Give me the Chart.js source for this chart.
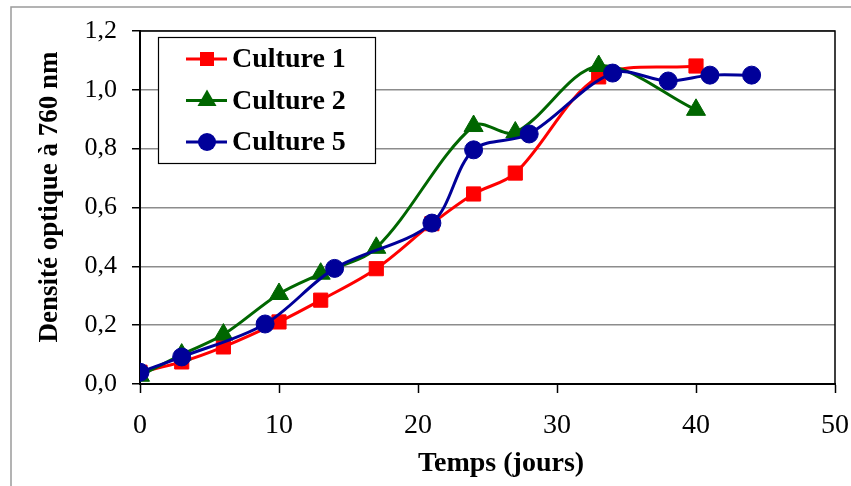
<!DOCTYPE html>
<html><head><meta charset="utf-8">
<script src="https://cdn.jsdelivr.net/npm/chart.js"></script>
<style>html,body{margin:0;padding:0;background:#fff;overflow:hidden}</style>
</head><body>
<canvas id="c" width="851" height="486"></canvas>
<script>
// ---- data ----
const seriesNames = ['Culture 1', 'Culture 2', 'Culture 5'];
const days1 = [0, 3, 6, 10, 13, 17, 21, 24, 27, 33, 40];
const od1   = [0.04, 0.075, 0.126, 0.211, 0.285, 0.392, 0.545, 0.646, 0.717, 1.044, 1.081];
const days2 = [0, 3, 6, 10, 13, 17, 24, 27, 33, 40];
const od2   = [0.028, 0.1, 0.168, 0.306, 0.375, 0.463, 0.877, 0.855, 1.081, 0.932];
const days5 = [0, 3, 9, 14, 21, 24, 28, 34, 38, 41, 44];
const od5   = [0.04, 0.092, 0.204, 0.393, 0.547, 0.796, 0.85, 1.057, 1.03, 1.05, 1.05];
const xTicks = [0, 10, 20, 30, 40, 50];
const yTicks = [0, 0.2, 0.4, 0.6, 0.8, 1.0, 1.2];
const yTickLabels = ['0,0', '0,2', '0,4', '0,6', '0,8', '1,0', '1,2'];
const xTitle = 'Temps (jours)';
const yTitle = 'Densité optique à 760 nm';

// ---- styles ----
const FONT = "'Liberation Serif', 'Times New Roman', serif";
const colors = ['#FF0000', '#006600', '#000099'];
const markers = ['rect', 'triangle', 'circle'];
const radii = [10, 11, 9];

function makeDataset(i, xs, ys) {
  return {
    label: seriesNames[i],
    data: xs.map((x, k) => ({ x: x, y: ys[k] })),
    borderColor: colors[i],
    backgroundColor: colors[i],
    pointStyle: markers[i],
    pointRadius: radii[i],
    pointHoverRadius: radii[i],
    pointBorderWidth: 1,
    pointBorderColor: colors[i],
    pointBackgroundColor: colors[i],
    borderWidth: 3,
    tension: 0.33,
    fill: false,
    order: 2 - i
  };
}

function drawMarker(ctx, style, x, y, color) {
  ctx.fillStyle = color;
  ctx.beginPath();
  if (style === 'rect') {
    ctx.rect(x - 7, y - 7, 14, 14);
  } else if (style === 'triangle') {
    ctx.moveTo(x, y - 11);
    ctx.lineTo(x + 9.5, y + 5.5);
    ctx.lineTo(x - 9.5, y + 5.5);
    ctx.closePath();
  } else {
    ctx.arc(x, y, 9, 0, Math.PI * 2);
  }
  ctx.fill();
}

const framePlugin = {
  id: 'frame',
  beforeDraw(chart) {
    const ctx = chart.ctx;
    ctx.save();
    ctx.fillStyle = '#fff';
    ctx.fillRect(0, 0, chart.width, chart.height);
    ctx.strokeStyle = '#9a9a9a';
    ctx.lineWidth = 1.5;
    ctx.strokeRect(11, 7, 1000, 1000);
    ctx.restore();
  },
  beforeDatasetsDraw(chart) {
    const a = chart.chartArea, ctx = chart.ctx;
    ctx.save();
    ctx.strokeStyle = '#000';
    ctx.lineWidth = 1.5;
    ctx.beginPath();
    ctx.moveTo(a.left, a.top);
    ctx.lineTo(a.right, a.top);
    ctx.lineTo(a.right, a.bottom);
    ctx.stroke();
    ctx.restore();
  },
  afterDraw(chart) {
    const ctx = chart.ctx;
    ctx.save();
    // axis titles
    ctx.fillStyle = '#000';
    ctx.textAlign = 'center';
    ctx.textBaseline = 'middle';
    ctx.font = "bold 28px " + FONT;
    ctx.fillText(xTitle, 501, 464);
    ctx.save();
    ctx.translate(50, 197);
    ctx.rotate(-Math.PI / 2);
    ctx.font = "bold 27px " + FONT;
    ctx.fillText(yTitle, 0, 0);
    ctx.restore();
    // legend box
    ctx.fillStyle = '#fff';
    ctx.fillRect(158, 37, 217, 126);
    ctx.strokeStyle = '#000';
    ctx.lineWidth = 1.2;
    ctx.strokeRect(158.5, 37.5, 217, 126);
    chart.data.datasets.forEach((d, i) => {
      const y = 59 + i * 41.5;
      ctx.strokeStyle = d.borderColor;
      ctx.lineWidth = 3;
      ctx.beginPath();
      ctx.moveTo(186, y);
      ctx.lineTo(227, y);
      ctx.stroke();
      drawMarker(ctx, d.pointStyle, 207, y, d.borderColor);
      ctx.fillStyle = '#000';
      ctx.font = "bold 28px " + FONT;
      ctx.textBaseline = 'middle';
      ctx.textAlign = 'left';
      ctx.fillText(d.label, 232, y + 1);
    });
    ctx.restore();
  }
};

new Chart(document.getElementById('c'), {
  type: 'line',
  data: {
    datasets: [
      makeDataset(0, days1, od1),
      makeDataset(1, days2, od2),
      makeDataset(2, days5, od5)
    ]
  },
  options: {
    responsive: false,
    animation: false,
    devicePixelRatio: 1,
    layout: { padding: { top: 31, right: 16, left: 0, bottom: 0 } },
    plugins: { legend: { display: false }, tooltip: { enabled: false } },
    scales: {
      x: {
        type: 'linear',
        min: 0, max: 50,
        afterBuildTicks: s => { s.ticks = xTicks.map(v => ({ value: v })); },
        afterFit: s => { s.height = 102; s.paddingLeft = 0; s.paddingRight = 0; },
        ticks: {
          color: '#000', padding: 16, maxRotation: 0, autoSkip: false,
          font: { family: FONT, size: 28 },
          callback: v => String(v)
        },
        grid: { drawOnChartArea: false, drawTicks: true, tickLength: 9, tickColor: '#000', tickWidth: 1.5 },
        border: { color: '#000', width: 2 },
        title: { display: false }
      },
      y: {
        min: 0, max: 1.2,
        afterBuildTicks: s => { s.ticks = yTicks.map(v => ({ value: v })); },
        afterFit: s => { s.width = 140; s.paddingTop = 0; s.paddingBottom = 0; },
        ticks: {
          color: '#000', padding: 15,
          font: { family: FONT, size: 26 },
          callback: (v, i) => yTickLabels[i]
        },
        grid: { drawOnChartArea: true, color: '#8c8c8c', lineWidth: 1.5, tickLength: 8, tickColor: '#000', tickWidth: 1.5 },
        border: { color: '#000', width: 2 },
        title: { display: false }
      }
    }
  },
  plugins: [framePlugin]
});
</script>
</body></html>
